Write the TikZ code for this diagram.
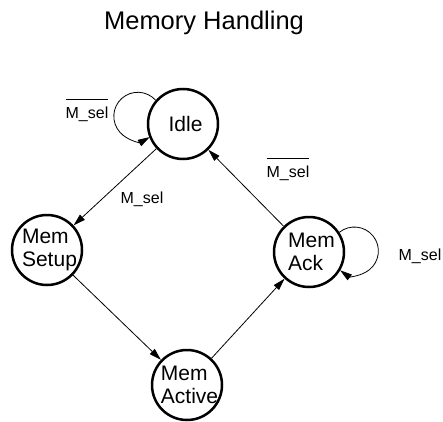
\documentclass[tikz,border=0pt]{standalone}
\usepackage{fontspec}
\setmainfont{Liberation Sans}
\usetikzlibrary{arrows.meta}
\newcommand{\nsel}{$\overline{\rule{0pt}{17pt}\mbox{M\_sel}}$}

\begin{document}
\begin{tikzpicture}[x=1pt, y=1pt,
    state/.style={circle, draw, line width=2.5pt, minimum size=70pt, inner sep=0pt},
    statetext/.style={align=left, xshift=2.5pt, inner sep=0pt, font=\fontsize{21}{23}\selectfont},
    trans/.style={line width=0.8pt, -{Triangle[length=12pt,width=7pt]}},
    cond/.style={font=\fontsize{16}{19}\selectfont, anchor=base, inner sep=0pt}]
  \useasboundingbox (0,0) rectangle (443,421);
  \node[font=\fontsize{25.5}{30}\selectfont, anchor=base] (title) at (204,391) {Memory Handling};

  \node[state, label={[statetext]center:Idle}] (idle) at (183,297) {};
  \node[state, label={[statetext]center:Mem\\Setup}] (setup) at (47,171) {};
  \node[state, label={[statetext]center:Mem\\Active}] (active) at (187,36) {};
  \node[state, label={[statetext]center:Mem\\Ack}] (ack) at (309,169) {};

  \draw[trans] (idle) -- (setup);
  \draw[trans] (setup) -- (active);
  \draw[trans] (active) -- (ack);
  \draw[trans] (ack) -- (idle);
  \draw[trans] (idle.139) arc[start angle=42, end angle=300, radius=24];
  \draw[trans] (ack.33) arc[start angle=128.6, end angle=-126.5, radius=24];

  \node[cond] (nsel1) at (87,303) {\nsel};
  \node[cond] (sel2) at (142,218) {M\_sel};
  \node[cond] (nsel3) at (288,244) {\nsel};
  \node[cond] (sel4) at (420,161) {M\_sel};
\end{tikzpicture}
\end{document}
